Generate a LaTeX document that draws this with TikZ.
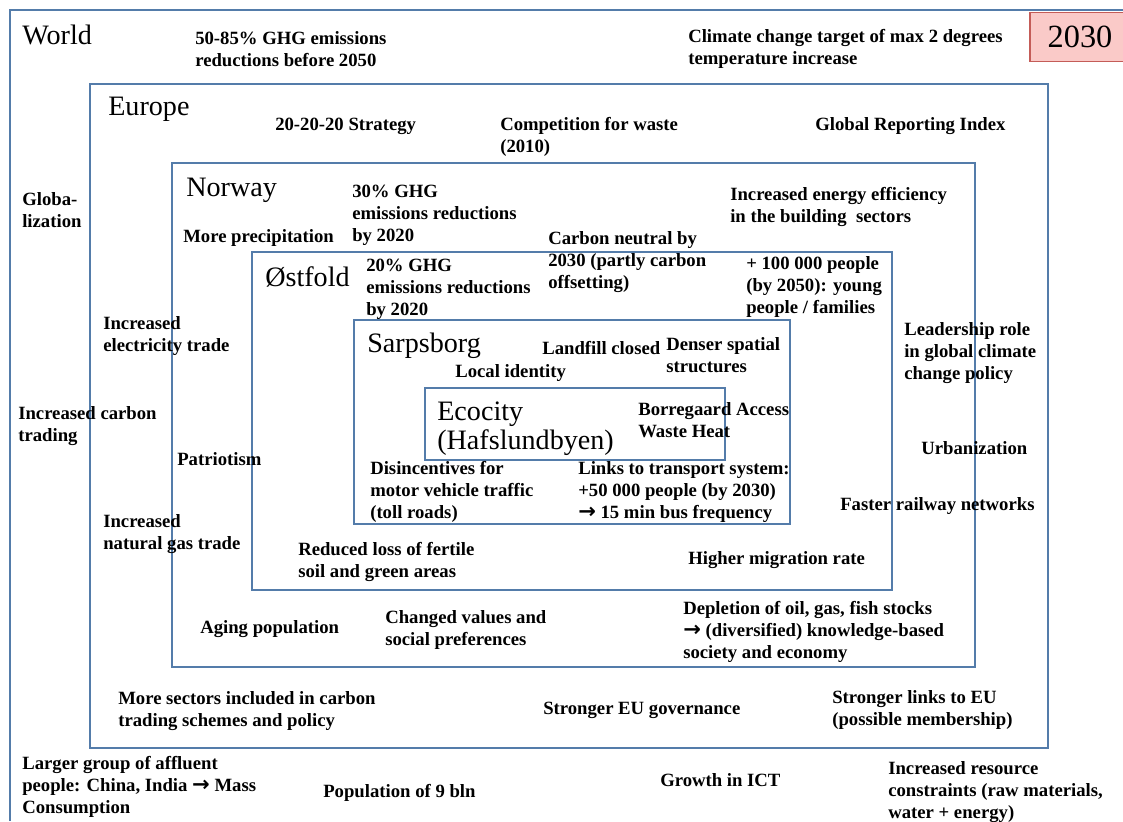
\documentclass[tikz,border=0pt]{standalone}
\usepackage{fontspec}
\setmainfont{Liberation Serif}
\newfontfamily\arrowfont{DejaVu Sans}
\newcommand{\toarrow}{{\arrowfont\bfseries\fontsize{15}{15}\selectfont →}}
\definecolor{frameblue}{RGB}{84,124,170}
\definecolor{yearfill}{RGB}{250,202,200}
\definecolor{yearline}{RGB}{196,92,88}
\tikzset{
  region/.style={draw=frameblue, line width=1.8pt},
  title/.style={anchor=west, inner sep=0pt, font=\fontsize{20}{26}\selectfont},
  driver/.style={anchor=west, align=left, inner sep=0pt,
    font=\fontsize{13.3}{15.6}\selectfont\bfseries}
}

\begin{document}
\begin{tikzpicture}[x=0.025cm, y=-0.025cm]
\useasboundingbox (0,0) rectangle (1123,821);
% Nested scales
\draw[region] (10,821) -- (10,10) -- (1123,10);
\draw[region] (90,84) rectangle (1048,748);
\draw[region] (172,163) rectangle (975,667);
\draw[region] (252,252) rectangle (892,590);
\draw[region] (354,320) rectangle (790,524);
\draw[region] (425,388) rectangle (725,460);
% Year tag
\node[draw=yearline, fill=yearfill, line width=0.8pt, minimum width=2.5cm, minimum height=1.22cm,
  font=\fontsize{23}{26}\selectfont] (year) at (1080,37) {2030};
% World
\node[title] (world) at (22,35) {World};
\node[driver] (w-ghg) at (195,49) {50-85\% GHG emissions\\reductions before 2050};
\node[driver] (w-climate) at (688,49) {Climate change target of max 2 degrees\\temperature increase};
\node[driver] (w-glob) at (22,210) {Globa-\\lization};
\node[driver] (w-carbon) at (18,426) {Increased carbon\\trading};
\node[driver] (w-lead) at (904,353) {Leadership role\\in global climate\\change policy};
\node[driver] (w-urban) at (921,448) {Urbanization};
\node[driver] (w-rail) at (840,506) {Faster railway networks};
\node[driver] (w-affluent) at (22,787) {Larger group of affluent\\people: China, India \toarrow{} Mass\\Consumption};
\node[driver] (w-pop) at (323,793) {Population of 9 bln};
\node[driver] (w-ict) at (660,780) {Growth in ICT};
\node[driver] (w-resource) at (888,792) {Increased resource\\constraints (raw materials,\\water + energy)};
% Europe
\node[title] (europe) at (108,109) {Europe};
\node[driver] (eu-strategy) at (275,126) {20-20-20 Strategy};
\node[driver] (eu-waste) at (500,137) {Competition for waste\\(2010)};
\node[driver] (eu-gri) at (815,126) {Global Reporting Index};
\node[driver] (eu-elec) at (103,336) {Increased\\electricity trade};
\node[driver] (eu-gas) at (103,534) {Increased\\natural gas trade};
\node[driver] (eu-sectors) at (118,711) {More sectors included in carbon\\trading schemes and policy};
\node[driver] (eu-gov) at (543,710) {Stronger EU governance};
\node[driver] (eu-links) at (832,710) {Stronger links to EU\\(possible membership)};
% Norway
\node[title] (norway) at (186,190) {Norway};
\node[driver] (no-ghg) at (352,215) {30\% GHG\\emissions reductions\\by 2020};
\node[driver] (no-rain) at (183,238) {More precipitation};
\node[driver] (no-energy) at (730,207) {Increased energy efficiency\\in the building\ \ sectors};
\node[driver] (no-patriot) at (177,459) {Patriotism};
\node[driver] (no-aging) at (200,629) {Aging population};
\node[driver] (no-values) at (385,630) {Changed values and\\social preferences};
\node[driver] (no-oil) at (683,632) {Depletion of oil, gas, fish stocks\\\toarrow{} (diversified) knowledge-based\\society and economy};
% Ostfold
\node[title] (ostfold) at (265,277) {Østfold};
\node[driver] (of-ghg) at (366,289) {20\% GHG\\emissions reductions\\by 2020};
\node[driver] (of-neutral) at (548,262) {Carbon neutral by\\2030 (partly carbon\\offsetting)};
\node[driver] (of-people) at (746,287) {+ 100 000 people\\(by 2050): young\\people / families};
\node[driver] (of-soil) at (298,562) {Reduced loss of fertile\\soil and green areas};
\node[driver] (of-migr) at (688,560) {Higher migration rate};
% Sarpsborg
\node[title] (sarpsborg) at (367,346) {Sarpsborg};
\node[driver] (sb-landfill) at (542,348) {Landfill closed};
\node[driver] (sb-dense) at (666,355) {Denser spatial\\structures};
\node[driver] (sb-identity) at (455,373) {Local identity};
\node[driver] (sb-toll) at (370,492) {Disincentives for\\motor vehicle traffic\\(toll roads)};
\node[driver] (sb-links) at (578,492) {Links to transport system:\\+50 000 people (by 2030)\\\toarrow{} 15 min bus frequency};
% Ecocity
\node[title, align=left, font=\fontsize{20}{20.5}\selectfont] (ecocity) at (437,429) {Ecocity\\(Hafslundbyen)};
\node[driver] (ec-heat) at (638,420) {Borregaard Access\\Waste Heat};
\end{tikzpicture}
\end{document}
